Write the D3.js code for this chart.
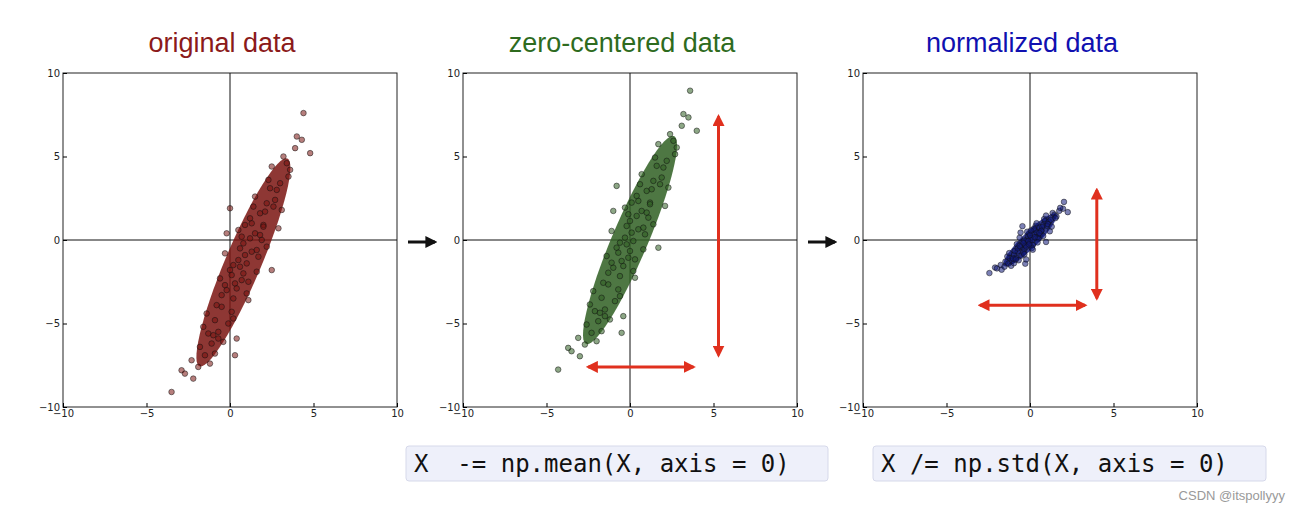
<!DOCTYPE html>
<html><head><meta charset="utf-8">
<script src="https://cdn.jsdelivr.net/npm/d3@7"></script>
<style>body{margin:0;background:#fff}</style>
</head><body><svg width="1300" height="512"></svg>
<script>
const svg = d3.select("svg");

// original data points (x, y)
const pointsX = [-3.5,-2.9,-2.7,-2.3,-2.2,-1.8,-1.9,-1.5,-1.3,-1.6,-1.1,-0.9,-1.2,-0.7,-0.5,-0.8,-0.4,-0.2,-0.6,-0.1,0.0,0.2,-0.3,0.3,0.1,0.5,0.4,0.6,0.2,0.8,0.7,0.9,1.0,0.5,1.2,1.1,1.3,0.8,1.5,1.4,1.6,1.2,1.8,1.7,2.0,1.5,2.2,1.9,2.4,2.1,2.6,2.3,2.8,2.5,3.0,2.7,3.2,3.4,3.6,3.9,4.3,4.4,4.0,4.8,3.1,2.9,0.0,-0.2,0.3,-0.9,-1.4,0.4,1.0,2.5,0.6,-0.5,1.6,2.0,0.9,1.3,0.1,-1.0,3.5,2.2,0.7,-0.3,1.8,0.2,1.1,-0.7];
const pointsY = [-9.1,-7.8,-8.0,-7.2,-8.3,-6.4,-7.6,-6.9,-5.6,-5.2,-6.2,-4.8,-7.4,-5.5,-4.0,-3.9,-6.1,-3.0,-2.3,-5.0,-1.8,-3.5,-0.8,-2.6,-4.3,-1.2,-2.9,-0.5,-1.5,-2.0,0.2,-0.9,-1.4,0.6,0.1,-2.5,1.0,-0.2,0.4,2.0,-0.6,1.3,1.6,-1.0,0.9,2.6,2.2,0.0,3.1,1.7,2.0,3.6,3.0,4.4,3.4,2.4,5.0,4.6,4.2,5.5,6.0,7.6,6.2,5.2,1.8,0.7,1.9,0.4,-6.9,-6.8,-4.4,-5.9,-3.2,-1.8,-1.6,-3.3,-1.9,0.8,0.9,-0.7,-2.1,-5.7,3.8,-0.4,-2.4,-2.7,0.3,-4.7,-3.6,-5.9];

const xTicks = [-10, -5, 0, 5, 10];
const titles = ["original data", "zero-centered data", "normalized data"];
const titleColors = ["#8b1a1a", "#2e6b1e", "#1010b0"];
const dotColors = ["#7a1410", "#2f5f22", "#101a7a"];
const codeLines = ["X  -= np.mean(X, axis = 0)", "X /= np.std(X, axis = 0)"];

// derive the three data sets
const n = Math.min(pointsX.length, pointsY.length);
const px = pointsX.slice(0, n), py = pointsY.slice(0, n);
const mx = d3.mean(px), my = d3.mean(py);
const sx = d3.deviation(px), sy = d3.deviation(py);
const sets = [
  px.map((x, i) => [x, py[i]]),
  px.map((x, i) => [x - mx, py[i] - my]),
  px.map((x, i) => [(x - mx) / sx, (py[i] - my) / sy])
];
// red range arrows: [x1,y1,x2,y2] in data coordinates
const arrows = [[], [[5.3, 7.4, 5.3, -6.9], [-2.5, -7.6, 3.8, -7.6]], [[4, 3, 4, -3.5], [-3, -3.9, 3.3, -3.9]]];

svg.append("defs").selectAll("marker").data(["red", "black"]).enter().append("marker")
  .attr("id", d => "m" + d).attr("viewBox", "0 0 10 10").attr("refX", 8).attr("refY", 5)
  .attr("markerWidth", 4).attr("markerHeight", 4).attr("orient", "auto-start-reverse")
  .append("path").attr("d", "M0,0L10,5L0,10z").attr("fill", d => d === "red" ? "#e0301e" : "#111");

const lefts = [63, 463, 863], plotTop = 73, size = 334;

sets.forEach((pts, k) => {
  const x = d3.scaleLinear().domain([-10, 10]).range([lefts[k], lefts[k] + size]);
  const y = d3.scaleLinear().domain([-10, 10]).range([plotTop + size, plotTop]);
  const g = svg.append("g");
  g.append("text").attr("x", x(0) - 8).attr("y", 52).attr("text-anchor", "middle")
    .attr("font-family", "Liberation Sans, Arial").attr("font-size", 27).attr("fill", titleColors[k]).text(titles[k]);
  g.append("rect").attr("x", x(-10)).attr("y", y(10)).attr("width", size).attr("height", size)
    .attr("fill", "none").attr("stroke", "#222").attr("stroke-width", 1);
  g.append("g").attr("transform", `translate(0,${y(-10)})`)
    .call(d3.axisBottom(x).tickValues(xTicks).tickSize(-4).tickPadding(3).tickFormat(d => d < 0 ? "\u2212" + (-d) : d))
    .call(a => a.select(".domain").remove());
  g.append("g").attr("transform", `translate(${x(-10)},0)`)
    .call(d3.axisLeft(y).tickValues(xTicks).tickSize(-4).tickPadding(3).tickFormat(d => d < 0 ? "\u2212" + (-d) : d))
    .call(a => a.select(".domain").remove());
  g.selectAll(".tick text").attr("font-size", 10).attr("font-family", "DejaVu Sans").attr("fill", "#222");
  g.append("line").attr("x1", x(-10)).attr("x2", x(10)).attr("y1", y(0)).attr("y2", y(0)).attr("stroke", "#111");
  g.append("line").attr("x1", x(0)).attr("x2", x(0)).attr("y1", y(-10)).attr("y2", y(10)).attr("stroke", "#111");

  // dense core: covariance ellipse of the points
  const cx = d3.mean(pts, p => p[0]), cy = d3.mean(pts, p => p[1]);
  const vxx = d3.mean(pts, p => (p[0] - cx) ** 2), vyy = d3.mean(pts, p => (p[1] - cy) ** 2);
  const vxy = d3.mean(pts, p => (p[0] - cx) * (p[1] - cy));
  const tr = vxx + vyy, det = vxx * vyy - vxy * vxy;
  const l1 = tr / 2 + Math.sqrt(tr * tr / 4 - det), l2 = tr / 2 - Math.sqrt(tr * tr / 4 - det);
  const ang = Math.atan2(l1 - vxx, vxy);
  const ell = d3.range(0, 2 * Math.PI + 0.01, 0.1).map(t => {
    const a = 1.6 * Math.sqrt(l1) * Math.cos(t), b = 1.6 * Math.sqrt(l2) * Math.sin(t);
    return [x(cx + a * Math.cos(ang) - b * Math.sin(ang)), y(cy + a * Math.sin(ang) + b * Math.cos(ang))];
  });
  g.append("path").attr("d", d3.line()(ell)).attr("fill", dotColors[k]).attr("opacity", 0.85);

  g.selectAll("circle").data(pts).enter().append("circle")
    .attr("cx", d => x(d[0])).attr("cy", d => y(d[1])).attr("r", 2.8)
    .attr("fill", dotColors[k]).attr("fill-opacity", 0.55).attr("stroke", "#111").attr("stroke-width", 0.5);

  arrows[k].forEach(a => g.append("line").attr("x1", x(a[0])).attr("y1", y(a[1])).attr("x2", x(a[2])).attr("y2", y(a[3]))
    .attr("stroke", "#e0301e").attr("stroke-width", 3)
    .attr("marker-start", "url(#mred)").attr("marker-end", "url(#mred)"));

  if (k > 0) {
    svg.append("line").attr("x1", lefts[k] - 55).attr("x2", lefts[k] - 28).attr("y1", y(0) + 2).attr("y2", y(0) + 2)
      .attr("stroke", "#111").attr("stroke-width", 3).attr("marker-end", "url(#mblack)");
    const bx = k === 1 ? 406 : 873, bw = k === 1 ? 422 : 393;
    svg.append("rect").attr("x", bx).attr("y", 446).attr("width", bw).attr("height", 35).attr("rx", 3)
      .attr("fill", "#eef0fa").attr("stroke", "#d6d9ea");
    svg.append("text").attr("x", bx + 8).attr("y", 472).attr("font-family", "DejaVu Sans Mono")
      .attr("font-size", 24).attr("fill", "#111").style("white-space", "pre").text(codeLines[k - 1]);
  }
});

svg.append("text").attr("x", 1285).attr("y", 500).attr("text-anchor", "end")
  .attr("font-family", "Liberation Sans, Arial").attr("font-size", 13).attr("fill", "#999").text("CSDN @itspollyyy");
</script></body></html>
